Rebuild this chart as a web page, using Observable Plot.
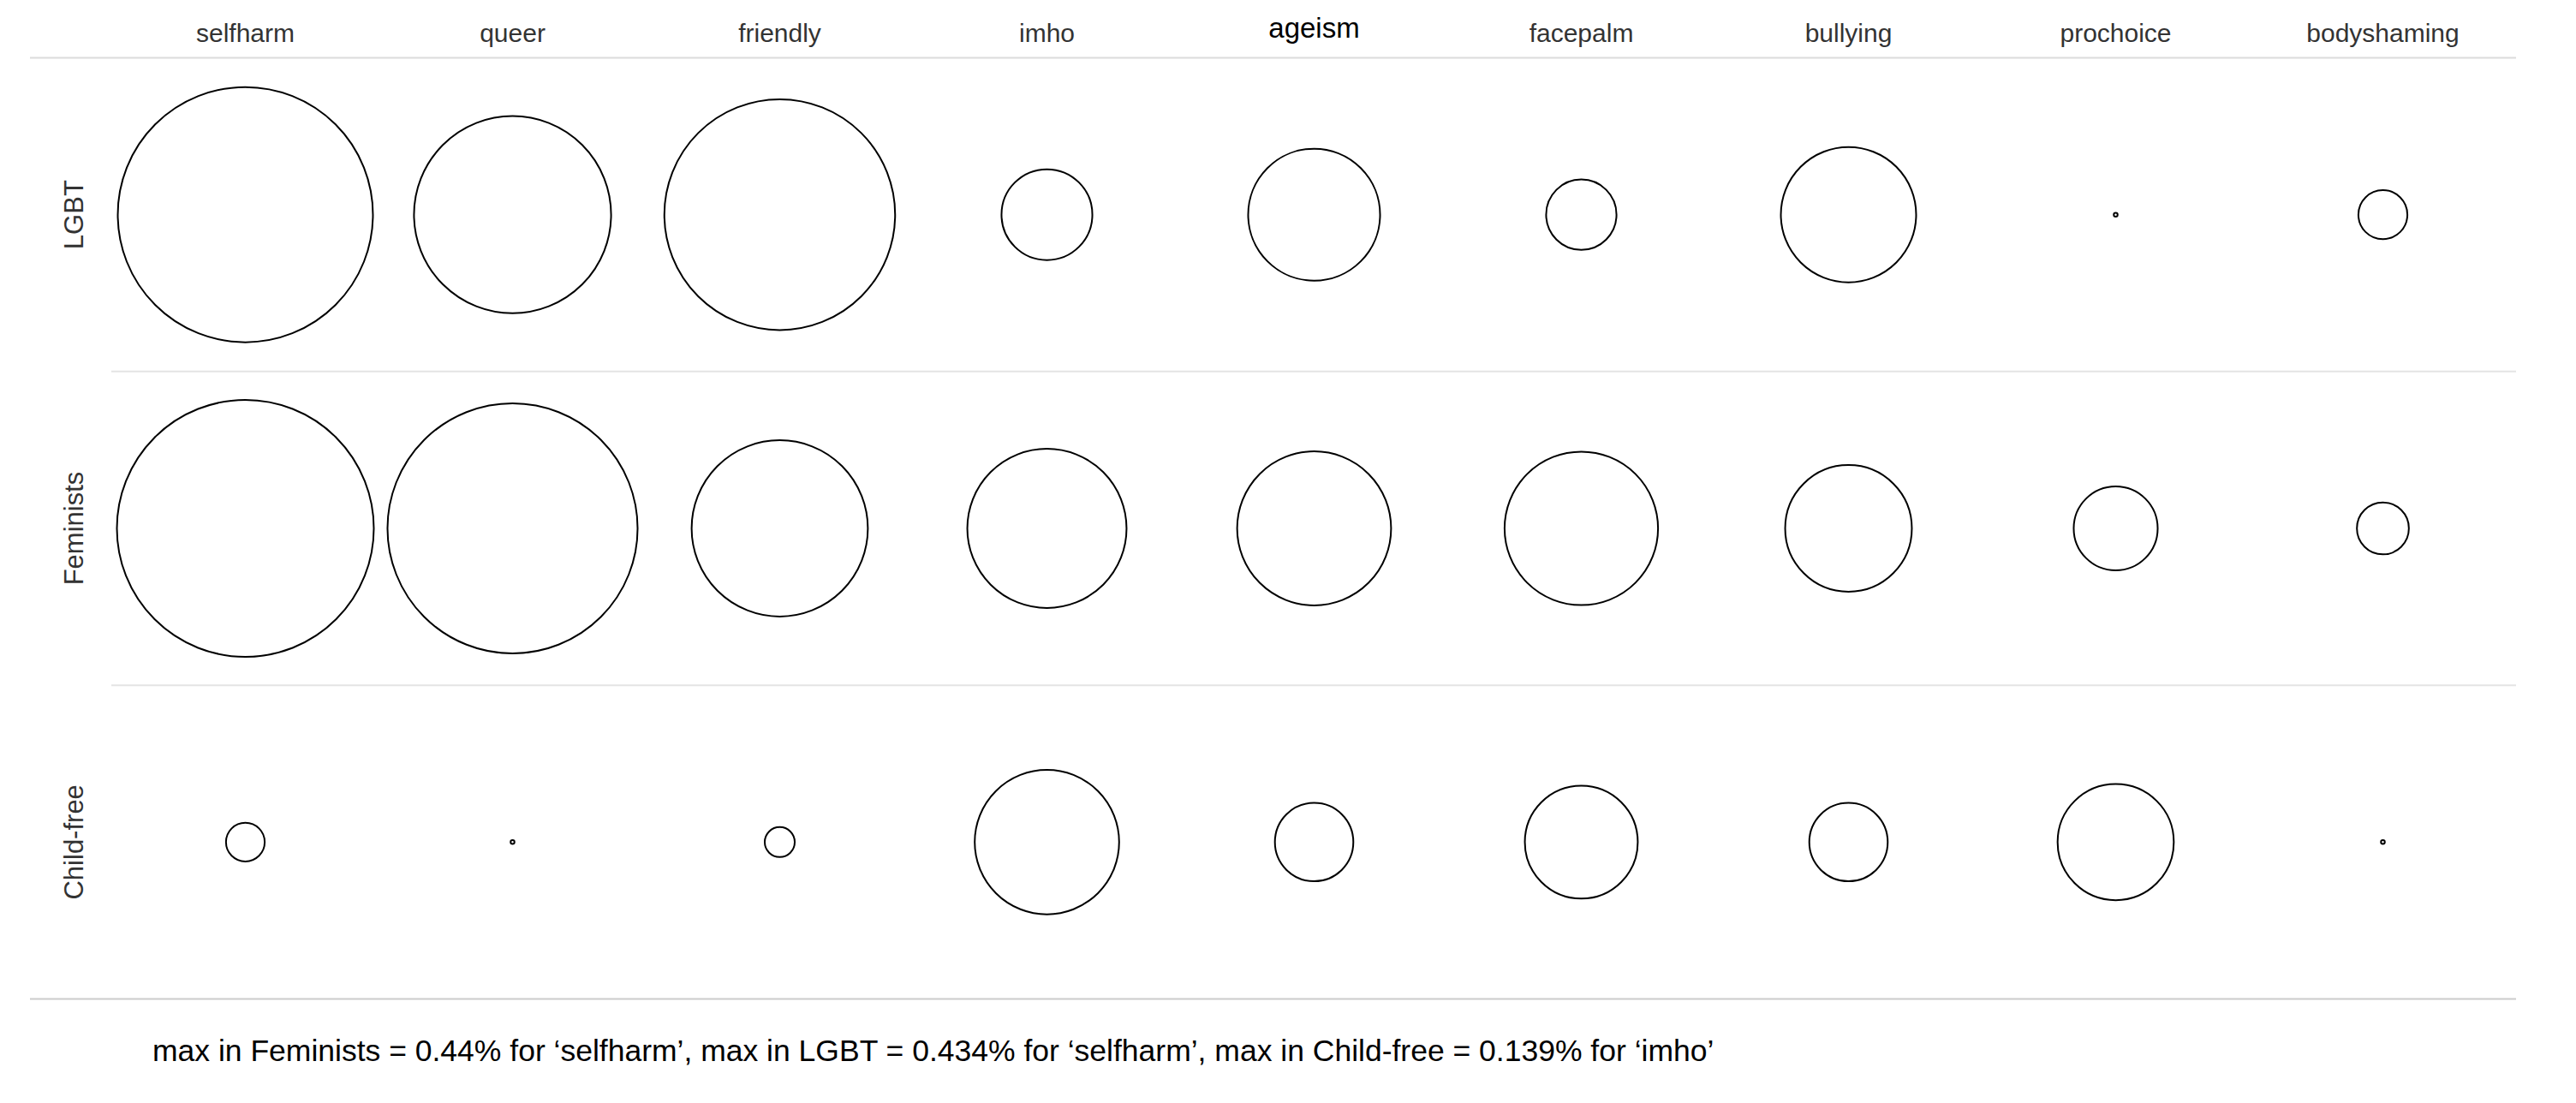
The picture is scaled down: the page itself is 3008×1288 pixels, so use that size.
<!DOCTYPE html>
<html>
<head>
<meta charset="utf-8">
<script src="https://cdn.jsdelivr.net/npm/d3@7"></script>
<script src="https://cdn.jsdelivr.net/npm/@observablehq/plot@0.6"></script>
<style>
  html, body { margin: 0; padding: 0; background: #ffffff; }
  #chart svg { display: block; }
  #caption {
    font-family: "Liberation Sans", Arial, sans-serif;
    font-size: 35.5px;
    line-height: 35px;
    color: #000;
    padding-left: 178px;
    margin-top: 30px;
    white-space: nowrap;
  }
</style>
</head>
<body>
<div id="chart"></div>
<div id="caption"></div>
<script>
// ---- data ----
const words = ["selfharm", "queer", "friendly", "imho", "ageism", "facepalm", "bullying", "prochoice", "bodyshaming"];
const groups = ["LGBT", "Feminists", "Child-free"];
// share of posts (%) per word
const lgbt      = [0.434, 0.259, 0.355, 0.055, 0.116, 0.033, 0.122, 0.0001, 0.016];
const feminists = [0.44,  0.417, 0.207, 0.169, 0.158, 0.157, 0.107, 0.047,  0.018];
const childfree = [0.010, 0.0001, 0.006, 0.139, 0.041, 0.085, 0.041, 0.090, 0.0001];
const captionText = "max in Feminists = 0.44% for ‘selfharm’, max in LGBT = 0.434% for ‘selfharm’, max in Child-free = 0.139% for ‘imho’";

const series = [lgbt, feminists, childfree];
const data = groups.flatMap((g, gi) =>
  words.map((w, wi) => ({group: g, word: w, gi, wi, value: series[gi][wi]}))
);
const maxValue = d3.max(data, d => d.value);

const font = "'Liberation Sans', Arial, Helvetica, sans-serif";

const chart = Plot.plot({
  width: 3008,
  height: 1180,
  marginLeft: 35,
  marginRight: 70,
  marginTop: 67,
  marginBottom: 14,
  style: {fontFamily: font, background: "#ffffff", overflow: "visible"},
  x: {axis: null, domain: [0, words.length], range: [130, 2938]},
  y: {axis: null, domain: [0, groups.length], reverse: true},
  r: {type: "sqrt", domain: [0, maxValue], range: [0, 150]},
  marks: [
    // top rule
    Plot.ruleY([0], {y: d => d, stroke: "#dcdcdc", strokeWidth: 2}),
    Plot.ruleY([0], {y: d => d, x2: () => 0, stroke: "#c8c8c8", strokeWidth: 2}),
    // inner separators
    Plot.ruleY(d3.range(1, groups.length), {y: d => d, x1: () => 0, x2: () => words.length, stroke: "#e4e4e4", strokeWidth: 2}),
    // bottom rule
    Plot.ruleY([groups.length], {y: d => d, stroke: "#cccccc", strokeWidth: 2}),
    // circles
    Plot.dot(data, {
      x: d => d.wi + 0.5,
      y: d => d.gi + 0.5,
      r: "value",
      fill: "none",
      stroke: "#000000",
      strokeWidth: 2
    }),
    // column labels
    Plot.text(words.filter(w => w !== "ageism"), {
      x: w => words.indexOf(w) + 0.5,
      frameAnchor: "top",
      lineAnchor: "bottom",
      dy: -19,
      text: d => d,
      fontSize: 30,
      fill: "#333333"
    }),
    Plot.text(words.filter(w => w === "ageism"), {
      x: w => words.indexOf(w) + 0.5,
      frameAnchor: "top",
      lineAnchor: "bottom",
      dy: -24,
      text: d => d,
      fontSize: 33,
      fill: "#000000"
    }),
    // row labels
    Plot.text(groups, {
      y: (d, i) => i + 0.5,
      frameAnchor: "left",
      textAnchor: "middle",
      dx: 52,
      rotate: -90,
      text: d => d,
      fontSize: 31,
      fill: "#333333"
    })
  ]
});

document.getElementById("chart").append(chart);
document.getElementById("caption").textContent = captionText;
</script>
</body>
</html>
